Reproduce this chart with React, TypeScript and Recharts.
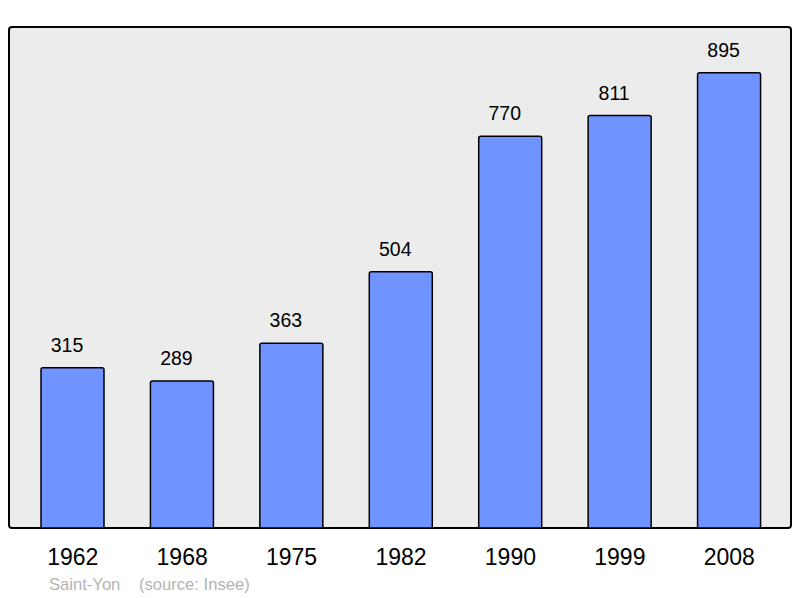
import * as R from 'recharts';
import { BarChart, Bar, XAxis, YAxis, CartesianGrid, LabelList } from 'recharts';

const years = ['1962', '1968', '1975', '1982', '1990', '1999', '2008'];
const population = [315, 289, 363, 504, 770, 811, 895];

const data = years.map((year, i) => ({ year, population: population[i] }));

const FONT = '"Liberation Sans", Arial, sans-serif';
const M = { top: 27, right: 9, left: 9, bottom: 0 };
const W = 800;
const H = 598;
const XH = 70;

function Frame() {
    const hook = (R as any).usePlotArea;
    const area = hook ? hook() : null;
    const x = area ? area.x : M.left;
    const y = area ? area.y : M.top;
    const w = area ? area.width : W - M.left - M.right;
    const h = area ? area.height : H - M.top - M.bottom - XH;
    return <rect x={x} y={y} width={w} height={h} rx={3} ry={3} fill="none" stroke="#000" strokeWidth={2} />;
}

function Footer() {
    return (
        <g fontFamily={FONT} fontSize={16.6} fill="#b4b4b4">
            <text x={49} y={590}>Saint-Yon</text>
            <text x={139} y={590}>(source: Insee)</text>
        </g>
    );
}

function YearTick(props: any) {
    const { x, y, payload } = props;
    return (
        <text x={x} y={y + 37} textAnchor="middle" fontSize={23} fill="#000" fontFamily={FONT}>
            {payload.value}
        </text>
    );
}

export default function App() {
    return (
        <div style={{ position: 'absolute', left: 0, top: 0, width: W, height: H, background: '#fff' }}>
            <BarChart width={W} height={H} data={data} margin={M} barSize={63}>
                <CartesianGrid horizontal={false} vertical={false} fill="#ececec" fillOpacity={1} />
                <XAxis
                    dataKey="year"
                    height={XH}
                    axisLine={false}
                    tickLine={false}
                    tickSize={0}
                    tickMargin={0}
                    padding={{ left: 9, right: 7 }}
                    interval={0}
                    tick={<YearTick />}
                />
                <YAxis hide domain={[0, 985]} />
                <Bar
                    dataKey="population"
                    fill="#7094ff"
                    stroke="#000"
                    strokeWidth={1.5}
                    radius={[2, 2, 0, 0]}
                    isAnimationActive={false}
                >
                    <LabelList
                        dataKey="population"
                        position="top"
                        offset={16}
                        dx={-5.5}
                        fill="#000"
                        fontSize={19.5}
                        fontFamily={FONT}
                    />
                </Bar>
                <Frame />
                <Footer />
            </BarChart>
        </div>
    );
}
